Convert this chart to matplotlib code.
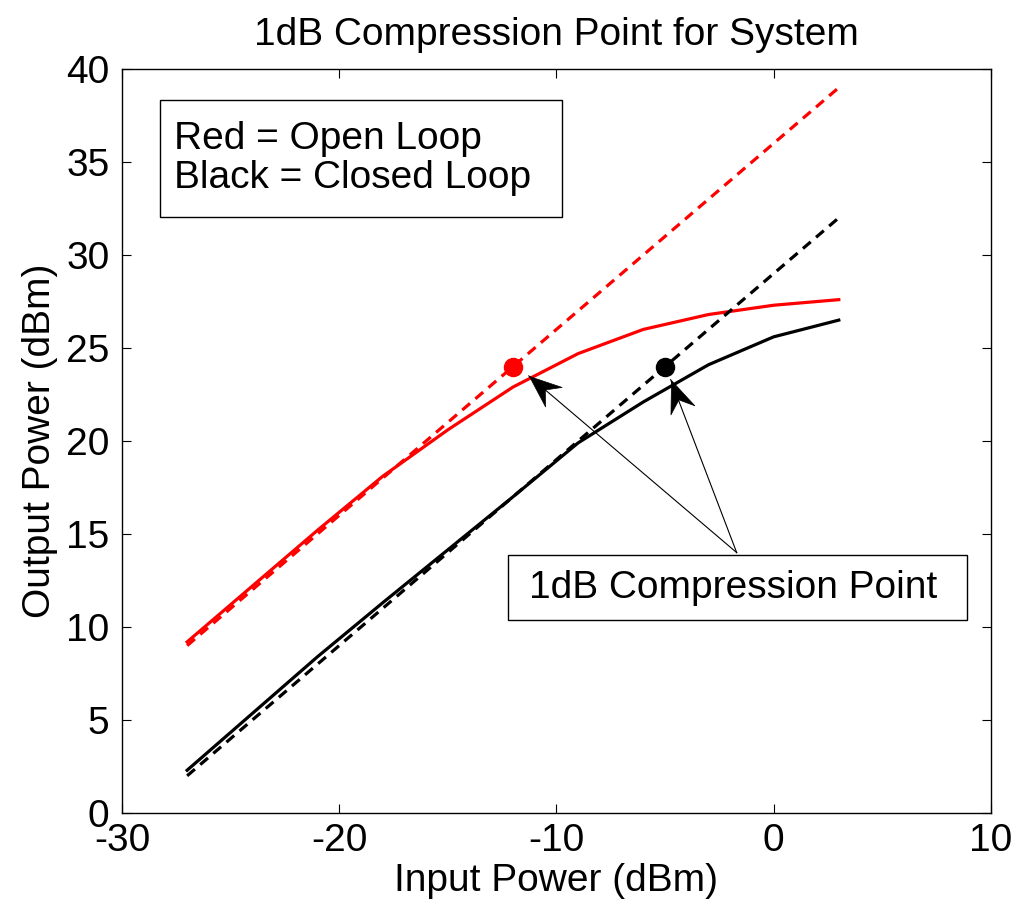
import numpy as np
import matplotlib.pyplot as plt
from matplotlib.path import Path
from matplotlib.markers import MarkerStyle
from matplotlib.transforms import Affine2D
from matplotlib.patches import Rectangle

plt.rcParams['font.family'] = ['Liberation Sans', 'DejaVu Sans']
plt.rcParams['axes.unicode_minus'] = False

# Input power sweep (dBm)
pin = [-27, -24, -21, -18, -15, -12, -9, -6, -3, 0, 3]

# Measured output power (dBm)
open_loop = [9.2, 12.2, 15.2, 18.1, 20.6, 22.9, 24.7, 26.0, 26.8, 27.3, 27.6]
closed_loop = [2.3, 5.35, 8.4, 11.3, 14.15, 17.0, 19.9, 22.1, 24.1, 25.6, 26.5]

# Ideal linear gain lines
open_gain = 36
closed_gain = 29
open_ideal = [p + open_gain for p in pin]
closed_ideal = [p + closed_gain for p in pin]

# 1dB compression points
p1db_open = (-12, 24)
p1db_closed = (-5, 24)

# annotation arrows: common tail, tips near each compression point
arrow_tail = (-1.7, 14.0)
arrow_tips = [(-11.27, 23.5), (-4.74, 23.3)]

FS = 28

fig = plt.figure(figsize=(10.3, 9.08), dpi=100)
ax = fig.add_axes([0.1184, 0.1046, 0.8436, 0.8194])

ax.plot(pin, open_ideal, color='red', ls='--', lw=2.3, dashes=(3.2, 2.2))
ax.plot(pin, open_loop, color='red', lw=2.3)
ax.plot(pin, closed_ideal, color='black', ls='--', lw=2.3, dashes=(3.2, 2.2))
ax.plot(pin, closed_loop, color='black', lw=2.3)
ax.plot(*p1db_open, 'o', color='red', ms=13)
ax.plot(*p1db_closed, 'o', color='black', ms=13)

ax.set_xlim(-30, 10)
ax.set_ylim(0, 40)
ax.set_xticks([-30, -20, -10, 0, 10])
ax.set_yticks(range(0, 41, 5))
ax.tick_params(direction='in', length=6.5, width=0.8, labelsize=FS,
               top=True, right=True)
ax.tick_params(axis='x', pad=7)
ax.tick_params(axis='y', pad=9)
for s in ax.spines.values():
    s.set_linewidth(1.0)

ax.set_title('1dB Compression Point for System', fontsize=FS, pad=17)
ax.set_xlabel('Input Power (dBm)', fontsize=FS, labelpad=3)
ax.set_ylabel('Output Power (dBm)', fontsize=FS, labelpad=6)

# "legend" box
ax.add_patch(Rectangle((0.0437, 0.801), 0.4626, 0.157, transform=ax.transAxes,
                       fc='white', ec='black', lw=1.0, zorder=5))
ax.text(0.0598, 0.8797, 'Red = Open Loop\nBlack = Closed Loop', transform=ax.transAxes,
        fontsize=FS, va='center', ha='left', linespacing=1.08, zorder=6)

# compression point label box
ax.add_patch(Rectangle((0.4442, 0.2594), 0.5282, 0.0874, transform=ax.transAxes,
                       fc='white', ec='black', lw=1.0, zorder=5))
ax.text(0.7037, 0.303, '1dB Compression Point', transform=ax.transAxes,
        fontsize=FS, va='center', ha='center', zorder=6)

# arrows with a notched (stealth) head
head = Path([(0, 0), (-1, 0.4), (-0.65, 0), (-1, -0.4), (0, 0)],
            [Path.MOVETO, Path.LINETO, Path.LINETO, Path.LINETO, Path.CLOSEPOLY])
for tip in arrow_tips:
    ax.plot([arrow_tail[0], tip[0]], [arrow_tail[1], tip[1]], color='black', lw=0.8)
    p0 = ax.transData.transform(arrow_tail)
    p1 = ax.transData.transform(tip)
    ang = np.degrees(np.arctan2(p1[1] - p0[1], p1[0] - p0[0]))
    m = MarkerStyle(head, transform=Affine2D().rotate_deg(ang))
    ax.plot(*tip, marker=m, ms=46, color='black', mec='black', mew=0.5, ls='none')

fig.savefig('out.png', dpi=100)
